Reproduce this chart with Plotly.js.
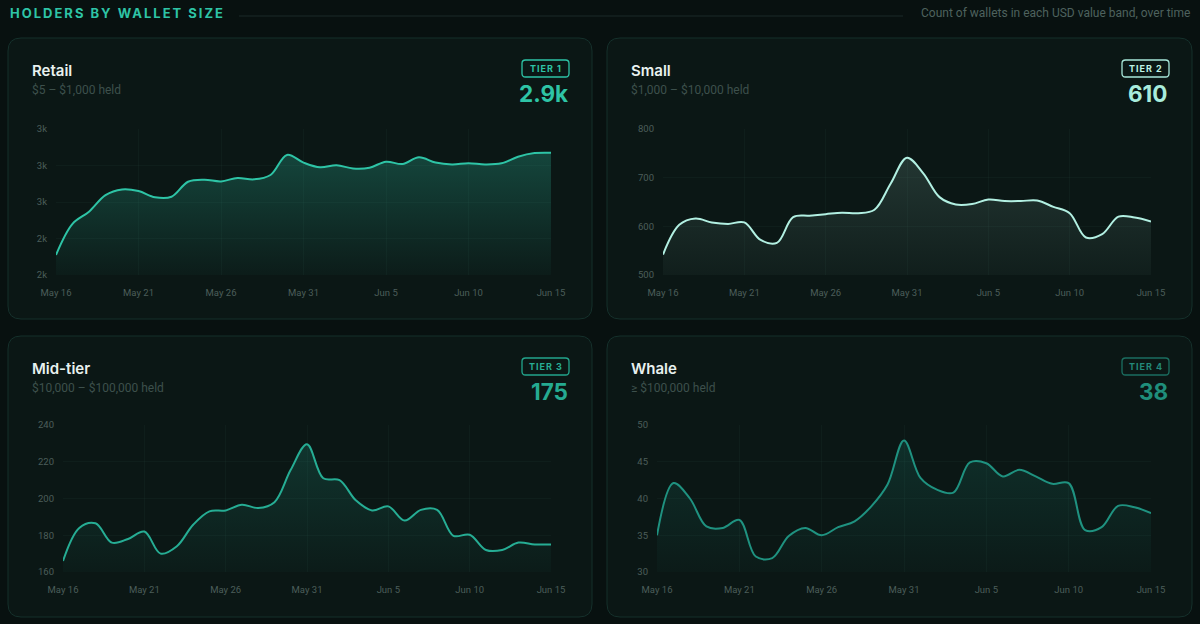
<!DOCTYPE html>
<html>
<head>
<meta charset="utf-8">
<script src="https://cdn.plot.ly/plotly-3.0.1.min.js"></script>
<style>
  html, body { margin:0; padding:0; background:#081110; }
  #chart { width:1200px; height:624px; }
</style>
</head>
<body>
<div id="chart"></div>
<script>
// ---------- DATA ----------
const dates = ['2025-05-16','2025-05-17','2025-05-18','2025-05-19','2025-05-20','2025-05-21','2025-05-22','2025-05-23','2025-05-24','2025-05-25','2025-05-26','2025-05-27','2025-05-28','2025-05-29','2025-05-30','2025-05-31','2025-06-01','2025-06-02','2025-06-03','2025-06-04','2025-06-05','2025-06-06','2025-06-07','2025-06-08','2025-06-09','2025-06-10','2025-06-11','2025-06-12','2025-06-13','2025-06-14','2025-06-15'];
const xTickVals = ['2025-05-16','2025-05-21','2025-05-26','2025-05-31','2025-06-05','2025-06-10','2025-06-15'];
const xTickText = ['May 16','May 21','May 26','May 31','Jun 5','Jun 10','Jun 15'];

const retail = [2310,2480,2547,2638,2669,2660,2626,2629,2711,2722,2713,2732,2724,2748,2858,2816,2790,2801,2784,2788,2821,2808,2845,2816,2806,2812,2806,2812,2848,2868,2870];
const small  = [542,603,616,608,605,608,572,566,619,622,625,628,627,634,688,741,709,660,645,646,655,652,652,653,640,627,577,584,620,618,610];
const midTier= [166,184,186.5,176,178,182,170,174,185.7,193,193.5,196.6,194.8,198,215.6,229.5,211,210,199,193.5,195.7,188,193.8,193.8,179.7,180.3,172,172,176,175,175];
const whale  = [35,42.1,40,36.2,36,37.1,32.1,31.9,34.9,36,35,36.1,36.9,38.9,41.9,47.9,42.8,41.2,40.8,44.9,44.8,43,43.9,43,42,42.1,35.7,36.1,39,38.8,38];

const retailTicks = [2200,2400,2600,2800,3000];
const retailTickText = ['2k','2k','3k','3k','3k'];
const smallTicks = [500,600,700,800];
const midTicks = [160,180,200,220,240];
const whaleTicks = [30,35,40,45,50];

const panelNames = ['Retail','Small','Mid-tier','Whale'];
const panelBands = ['$5 – $1,000 held','$1,000 – $10,000 held','$10,000 – $100,000 held','≥ $100,000 held'];
const panelTiers = ['TIER 1','TIER 2','TIER 3','TIER 4'];
const panelLatest = ['2.9k','610','175','38'];

const headerTitle = 'HOLDERS BY WALLET SIZE';
const headerSub = 'Count of wallets in each USD value band, over time';

// ---------- LAYOUT HELPERS ----------
const W = 1200, H = 624;
const X = px => px / W;
const Y = py => 1 - py / H;

function roundRect(x0, y0, x1, y1, r) {
  const p = (x, y) => X(x) + ',' + Y(y);
  return 'M' + p(x0 + r, y0) + ' L' + p(x1 - r, y0) + ' Q' + p(x1, y0) + ' ' + p(x1, y0 + r) +
         ' L' + p(x1, y1 - r) + ' Q' + p(x1, y1) + ' ' + p(x1 - r, y1) +
         ' L' + p(x0 + r, y1) + ' Q' + p(x0, y1) + ' ' + p(x0, y1 - r) +
         ' L' + p(x0, y0 + r) + ' Q' + p(x0, y0) + ' ' + p(x0 + r, y0) + ' Z';
}

const panels = [
  { card:[8,38,592,319],   plot:[56,129,551,275],  data:retail,  range:[2200,3000], ticks:retailTicks, tickText:retailTickText,
    line:'#2ec4a6', rgb:'46,196,166', fillTop:0.27, fillBot:0.03, badge:'#2ec4a6', badgeText:'#2ec4a6', value:'#2ec4a6' },
  { card:[607,38,1192,319], plot:[663,129,1151,275], data:small,  range:[500,800], ticks:smallTicks, tickText:null,
    line:'#b2f0e2', rgb:'150,205,192', fillTop:0.17, fillBot:0.04, badge:'#a8e8da', badgeText:'#bdf2e6', value:'#a8ecdc' },
  { card:[8,336,592,617],   plot:[63,425,551,572],  data:midTier, range:[160,240], ticks:midTicks, tickText:null,
    line:'#26ad94', rgb:'38,173,148', fillTop:0.20, fillBot:0.03, badge:'#23a58c', badgeText:'#27ad94', value:'#25ab91' },
  { card:[607,336,1192,617], plot:[657,425,1151,572], data:whale, range:[30,50], ticks:whaleTicks, tickText:null,
    line:'#1f9280', rgb:'31,146,128', fillTop:0.20, fillBot:0.03, badge:'#1b6e60', badgeText:'#23897a', value:'#1f8e7b' }
];

const traces = [];
const layout = {
  width: W, height: H,
  margin: {l:0, r:0, t:0, b:0},
  paper_bgcolor: '#081110',
  plot_bgcolor: 'rgba(0,0,0,0)',
  showlegend: false,
  hovermode: false,
  shapes: [],
  annotations: []
};

// header
layout.shapes.push({type:'line', xref:'paper', yref:'paper', x0:X(239), x1:X(903), y0:Y(16), y1:Y(16),
  line:{color:'#1a2b28', width:1}});
layout.annotations.push({xref:'paper', yref:'paper', x:X(117), y:Y(13), xanchor:'center', yanchor:'middle',
  text:headerTitle, showarrow:false, font:{family:'Inter, Roboto, sans-serif', size:13, weight:700, color:'#2ec4a6'}});
layout.annotations.push({xref:'paper', yref:'paper', x:X(1192), y:Y(13), xanchor:'right', yanchor:'middle',
  text:headerSub, showarrow:false, font:{family:'Roboto, sans-serif', size:12, color:'#4e625e'}});

const gridColor = 'rgba(110,190,170,0.045)';
const tickColor = '#4b5e5a';

panels.forEach((p, i) => {
  const n = i + 1;
  const xa = 'xaxis' + (n === 1 ? '' : n), ya = 'yaxis' + (n === 1 ? '' : n);
  const [cx0, cy0, cx1, cy1] = p.card;
  // card
  layout.shapes.push({type:'path', xref:'paper', yref:'paper', path:roundRect(cx0, cy0, cx1, cy1, 13),
    fillcolor:'#0b1715', line:{color:'#15302b', width:1}, layer:'below'});
  // badge
  const bx1 = cx1 - 23, bx0 = bx1 - 47;
  layout.shapes.push({type:'path', xref:'paper', yref:'paper', path:roundRect(bx0, cy0 + 22, bx1, cy0 + 39, 3.5),
    fillcolor:'rgba(0,0,0,0)', line:{color:p.badge, width:1.3}, layer:'above'});
  layout.annotations.push({xref:'paper', yref:'paper', x:X((bx0 + bx1) / 2 + 0.5), y:Y(cy0 + 30.5), xanchor:'center', yanchor:'middle',
    text:panelTiers[i], showarrow:false, font:{family:'Inter, Roboto, sans-serif', size:9, weight:700, color:p.badgeText}});
  // big number
  layout.annotations.push({xref:'paper', yref:'paper', x:X(bx1 + 1), y:Y(cy0 + 55), xanchor:'right', yanchor:'middle',
    text:panelLatest[i], showarrow:false, font:{family:'Inter, Roboto, sans-serif', size:22.5, weight:700, color:p.value}});
  // title and band
  layout.annotations.push({xref:'paper', yref:'paper', x:X(cx0 + 22), y:Y(cy0 + 32), xanchor:'left', yanchor:'middle',
    text:panelNames[i], showarrow:false, font:{family:'Inter, Roboto, sans-serif', size:15, weight:600, color:'#e8f1ef'}});
  layout.annotations.push({xref:'paper', yref:'paper', x:X(cx0 + 22), y:Y(cy0 + 52), xanchor:'left', yanchor:'middle',
    text:panelBands[i], showarrow:false, font:{family:'Roboto, sans-serif', size:12, color:'#3d504c'}});

  const [px0, py0, px1, py1] = p.plot;
  layout[xa] = {
    domain:[X(px0), X(px1)], anchor:'y' + (n === 1 ? '' : n), type:'date',
    range:[dates[0], dates[dates.length - 1]],
    tickvals:xTickVals, ticktext:xTickText, ticks:'', ticklabelstandoff:10,
    showgrid:true, gridcolor:gridColor, gridwidth:1, zeroline:false, showline:false,
    tickfont:{family:'Roboto, sans-serif', size:9.5, color:tickColor}, fixedrange:true
  };
  const yax = {
    domain:[Y(py1), Y(py0)], anchor:'x' + (n === 1 ? '' : n),
    range:p.range, tickvals:p.ticks, ticks:'', ticklabelstandoff:8,
    showgrid:true, gridcolor:gridColor, gridwidth:1, zeroline:false, showline:false,
    tickfont:{family:'Roboto, sans-serif', size:9.5, color:tickColor}, fixedrange:true
  };
  if (p.tickText) yax.ticktext = p.tickText;
  layout[ya] = yax;

  traces.push({
    x:dates, y:p.data, type:'scatter', mode:'lines',
    xaxis:'x' + (n === 1 ? '' : n), yaxis:'y' + (n === 1 ? '' : n),
    line:{shape:'spline', smoothing:1, color:p.line, width:2},
    fill:'tozeroy',
    fillcolor:'rgba(' + p.rgb + ',0.12)',
    fillgradient:{type:'vertical', start:p.range[0], stop:Math.max.apply(null, p.data),
      colorscale:[[0, 'rgba(' + p.rgb + ',' + p.fillBot + ')'], [1, 'rgba(' + p.rgb + ',' + p.fillTop + ')']]},
    hoverinfo:'skip', cliponaxis:true
  });
});

Plotly.newPlot('chart', traces, layout, {displayModeBar:false, staticPlot:true}).then(() => {
  document.querySelectorAll('#chart .annotation-text').forEach(t => {
    const s = t.textContent;
    if (s === headerTitle) t.style.letterSpacing = '2px';
    else if (s.indexOf('TIER') === 0) t.style.letterSpacing = '1px';
  });
});
</script>
</body>
</html>
